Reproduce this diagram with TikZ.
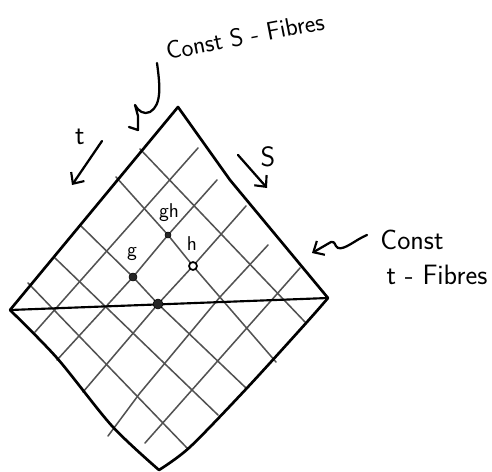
\documentclass[tikz,border=0pt]{standalone}
\usetikzlibrary{arrows.meta}
\begin{document}
\begin{tikzpicture}[x=0.75pt,y=-0.75pt,
  edge/.style={line width=2pt, line join=round, line cap=round},
  gridline/.style={line width=1.15pt, draw=black!68, line cap=round, line join=round},
  hand/.style={line width=1.7pt, line cap=round, line join=round},
  barb/.style={-{Straight Barb[length=6.5pt,width=12pt,line width=1.6pt]}},
  lbl/.style={font=\sffamily\fontsize{19}{21}\selectfont, inner sep=0pt},
  biglbl/.style={font=\sffamily\fontsize{21}{23}\selectfont, inner sep=0pt},
  smalllbl/.style={font=\sffamily\fontsize{15}{17}\selectfont, inner sep=0pt},
  fdot/.style={circle, fill=black!85, draw=black, inner sep=0pt},
  odot/.style={circle, fill=white, draw=black, line width=1.3pt, inner sep=0pt}
]
\useasboundingbox (0,0) rectangle (492,471);

% corners
\coordinate (T) at (178,107);
\coordinate (L) at (10,310);
\coordinate (R) at (328,298);
\coordinate (B) at (159,470);
% special points
\coordinate (gh) at (168,235);
\coordinate (h) at (193,266);
\coordinate (g) at (133,277);
\coordinate (o) at (158,304);

% grid lines (down-right family)
\draw[gridline] (140,149) -- (305,322);
\draw[gridline] (116,177) -- (gh) -- (h) -- (276,362);
\draw[gridline] (80,225) -- (g) -- (o) -- (246,388);
\draw[gridline] (55,258) -- (218,415);
\draw[gridline] (28,283) -- (188,449);
% grid lines (down-left family)
\draw[gridline] (198,148) -- (35,332);
\draw[gridline] (217,180) -- (gh) -- (g) -- (57,360);
\draw[gridline] (246,206) -- (h) -- (o) -- (83,392);
\draw[gridline] (268,245) -- (220,297) -- (140,393) -- (108,436);
\draw[gridline] (300,268) -- (145,443);

% outline
\draw[edge] (L) -- (T) -- (230,180) -- (R);
\draw[edge] plot[smooth] coordinates {(328,298) (307,322) (247,388) (190,447) (159,470)};
\draw[edge] plot[smooth] coordinates {(10,310) (57,358) (112,426) (159,470)};
\draw[line width=1.6pt, line cap=round] (L) -- (R);

% dots
\node[fdot, minimum size=4.5pt] (ghdot) at (gh) {};
\node[odot, minimum size=6pt] (hdot) at (h) {};
\node[fdot, minimum size=6pt] (gdot) at (g) {};
\node[fdot, minimum size=7.5pt] (odot) at (o) {};

% labels
\node[smalllbl] (ghl) at (169,213) {gh};
\node[smalllbl] (gl) at (132,254) {g};
\node[smalllbl] (hl) at (192,244) {h};
\node[biglbl] (tl) at (80,137) {t};
\node[biglbl] (sl) at (268,157) {S};
\node[lbl, rotate=11] (cs) at (245,36) {Const S - Fibres};
\node[biglbl] (ct1) at (412,240) {Const};
\node[biglbl] (ct2) at (437,275) {t - Fibres};

% arrows
\coordinate (ta) at (102,141);
\coordinate (tb) at (72,185);
\draw[hand, barb] (ta) -- (tb);
\coordinate (sa) at (238,155);
\coordinate (sb) at (267,188);
\draw[hand, barb] (sa) .. controls (252,170) .. (sb);
\coordinate (ra) at (367,235);
\coordinate (rb) at (312,253);
\draw[hand, barb] (ra) .. controls (355,240) and (345,250) .. (338,248)
   .. controls (334,246) and (336,241) .. (331,242) -- (rb);
\coordinate (qa) at (157,63);
\draw[hand] (qa) .. controls (160,85) and (162,105) .. (150,112)
   .. controls (144,115) and (138,111) .. (135,105) -- (138,116) -- (138,130) -- (129,127);
\end{tikzpicture}
\end{document}
